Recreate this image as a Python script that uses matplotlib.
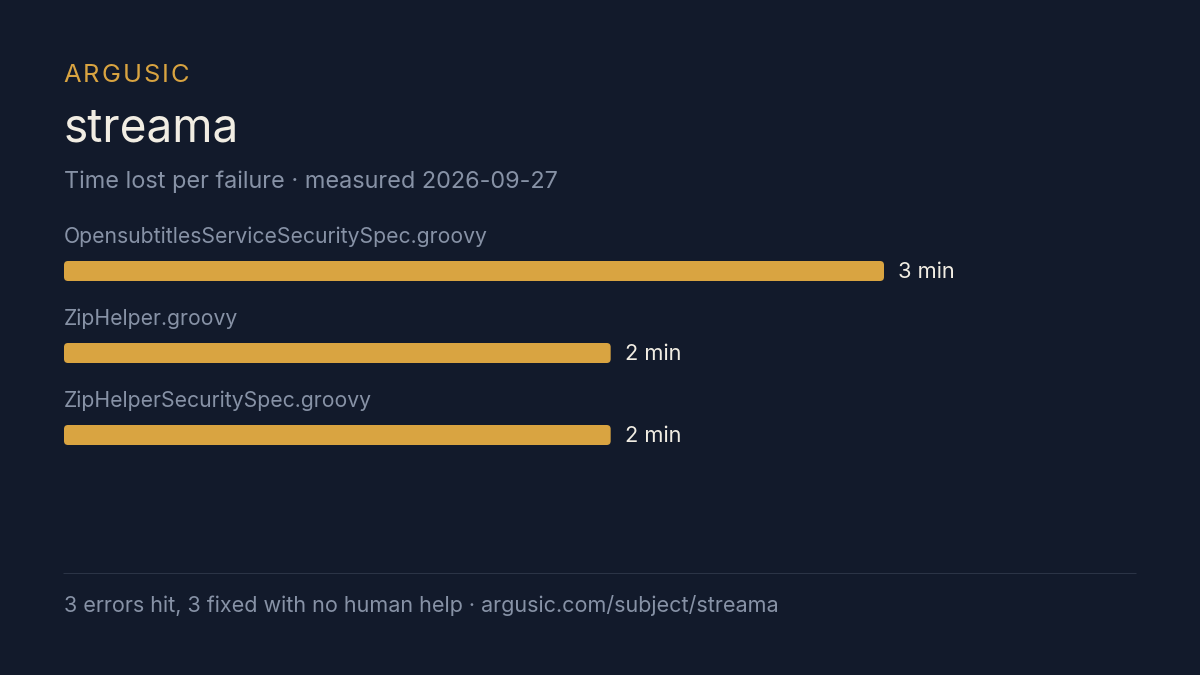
import matplotlib
matplotlib.use("Agg")
import matplotlib.pyplot as plt
from matplotlib.patches import FancyBboxPatch
from matplotlib.text import Text
from matplotlib.transforms import Affine2D, IdentityTransform

files = ["OpensubtitlesServiceSecuritySpec.groovy", "ZipHelper.groovy", "ZipHelperSecuritySpec.groovy"]
minutes = [3, 2, 2]
value_labels = ["3 min", "2 min", "2 min"]
brand = "ARGUSIC"
title = "streama"
subtitle = "Time lost per failure · measured 2026-09-27"
footer = "3 errors hit, 3 fixed with no human help · argusic.com/subject/streama"

BG = "#121a2b"
GOLD = "#d9a441"
W, H = 1200, 675
plt.rcParams["font.family"] = ["Inter", "DejaVu Sans"]

fig = plt.figure(figsize=(12, 6.75), dpi=100, facecolor=BG)
px = Affine2D().scale(1, -1).translate(0, H)  # pixels measured from the top-left


class TrackedText(Text):
    """One text string drawn with extra letter spacing (in pixels)."""
    tracking = 0.0

    def draw(self, renderer):
        s = self.get_text()
        x, y = self.get_transform().transform(self.get_position())
        fp = self.get_fontproperties()
        for i, ch in enumerate(s):
            adv = renderer.get_text_width_height_descent(s[:i], fp, False)[0] if i else 0
            g = Text(x + adv + i * self.tracking, y, ch, fontproperties=fp,
                     color=self.get_color(), va="baseline", ha="left",
                     transform=IdentityTransform())
            g.set_figure(self.get_figure())
            g.draw(renderer)


def label(x, y, s, size, color, **kw):
    fig.text(x, y, s, transform=px, fontsize=size * 0.72, color=color,
             va="baseline", ha="left", **kw)


tracked = TrackedText(63.5, 81.5, brand, transform=px, fontsize=25.5 * 0.72, color=GOLD,
                      va="baseline", ha="left")
tracked.tracking = 2.0
fig.add_artist(tracked)

label(63.5, 142, title, 46, "#f1ede3")
label(64, 188, subtitle, 23.45, "#8792a6")
label(64, 612, footer, 21.56, "#8792a6")

# Axes: x spans 820 px for 3 minutes, one row per 82 px
row = 82
ax = fig.add_axes([64 / W, 1 - (271 + 2.5 * row) / H, 820 / W, 3 * row / H])
ax.set_xlim(0, max(minutes))
ax.set_ylim(2.5, -0.5)
ax.axis("off")
ax.patch.set_visible(False)

bars = ax.barh(range(len(files)), minutes, height=20 / row, color=GOLD)
xu = max(minutes) / 820
yu = 1 / row
radius = 4
for rect, name, vlabel, i in zip(bars, files, value_labels, range(len(files))):
    rect.set_visible(False)
    x0, y0, w, h = rect.get_x(), rect.get_y(), rect.get_width(), rect.get_height()
    patch = FancyBboxPatch((x0 + radius * xu, y0 + radius * yu),
                           w - 2 * radius * xu, h - 2 * radius * yu,
                           boxstyle=f"round,pad={radius * xu},rounding_size={radius * xu}",
                           mutation_aspect=yu / xu, fc=GOLD, ec="none", snap=False)
    ax.add_patch(patch)
    ax.annotate(vlabel, (w, i), xytext=(14, 1), textcoords="offset pixels",
                color="#f1ede3", fontsize=21.8 * 0.72, va="center_baseline", ha="left",
                annotation_clip=False)
    ax.annotate(name, (0, i), xytext=(0, 28), textcoords="offset pixels",
                color="#8792a6", fontsize=21.15 * 0.72, va="baseline", ha="left",
                annotation_clip=False)

line_y = 573.5
fig.add_artist(plt.Line2D([64, 1136], [line_y, line_y], transform=px,
                          color="#2b3446", lw=0.72, snap=False))

fig.savefig("out.png", dpi=100, facecolor=BG)
